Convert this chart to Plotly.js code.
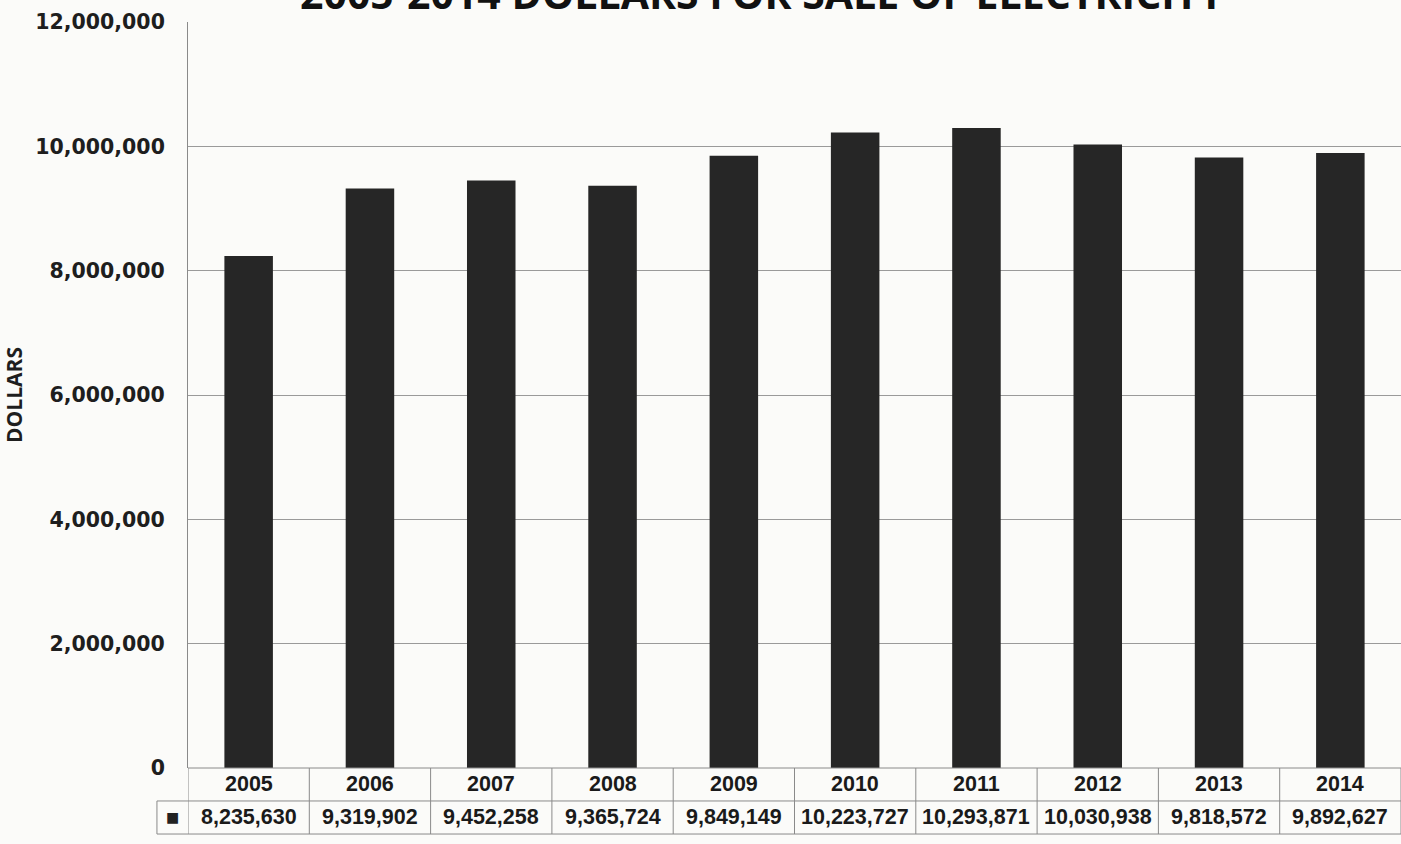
<!DOCTYPE html>
<html>
<head>
<meta charset="utf-8">
<script src="https://cdn.plot.ly/plotly-3.0.1.min.js"></script>
<style>html,body{margin:0;padding:0;background:#fbfbf9;}#chart{width:1401px;height:844px;}</style>
</head>
<body>
<div id="chart"></div>
<script>
const years = ["2005","2006","2007","2008","2009","2010","2011","2012","2013","2014"];
const dollars = [8235630, 9319902, 9452258, 9365724, 9849149, 10223727, 10293871, 10030938, 9818572, 9892627];
const valueLabels = ["8,235,630","9,319,902","9,452,258","9,365,724","9,849,149","10,223,727","10,293,871","10,030,938","9,818,572","9,892,627"];
const tickVals = [0, 2000000, 4000000, 6000000, 8000000, 10000000, 12000000];
const tickText = ["0","2,000,000","4,000,000","6,000,000","8,000,000","10,000,000","12,000,000"];
const chartTitle = "2005-2014 DOLLARS FOR SALE OF ELECTRICITY";
const yTitle = "DOLLARS";

const row1 = -0.0442, row2 = -0.0885, legendX = -0.0256;
const lineStyle = {color: "#8a8a8a", width: 1};
const shapes = [];
const annotations = [];
// table vertical lines (category boundaries on the x scale)
for (let i = 0; i <= years.length; i++) {
  shapes.push({type: "line", xref: "x", yref: "paper", x0: i - 0.5, x1: i - 0.5, y0: 0, y1: row2, line: lineStyle});
}
// table horizontal lines
shapes.push({type: "line", xref: "paper", yref: "paper", x0: 0, x1: 1, y0: 0, y1: 0, line: lineStyle});
shapes.push({type: "line", xref: "paper", yref: "paper", x0: legendX, x1: 1, y0: row1, y1: row1, line: lineStyle});
shapes.push({type: "line", xref: "paper", yref: "paper", x0: legendX, x1: 1, y0: row2, y1: row2, line: lineStyle});
shapes.push({type: "line", xref: "paper", yref: "paper", x0: legendX, x1: legendX, y0: row1, y1: row2, line: lineStyle});

const tfont = {family: "Liberation Sans, Arial, sans-serif", size: 21.5, color: "#1a1a1a", weight: "bold"};
years.forEach((y, i) => {
  annotations.push({x: i, y: row1 / 2, xref: "x", yref: "paper", text: "<b>" + y + "</b>", showarrow: false, font: tfont, xanchor: "center", yanchor: "middle"});
  annotations.push({x: i, y: (row1 + row2) / 2, xref: "x", yref: "paper", text: "<b>" + valueLabels[i] + "</b>", showarrow: false, font: tfont, xanchor: "center", yanchor: "middle"});
});
annotations.push({x: legendX / 2, y: (row1 + row2) / 2, xref: "paper", yref: "paper", text: "■", showarrow: false, font: {family: "DejaVu Sans", size: 14, color: "#222"}, xanchor: "center", yanchor: "middle"});
annotations.push({x: 0.474, y: 1, xref: "paper", yref: "paper", text: "<b>" + chartTitle + "</b>", showarrow: false, yanchor: "bottom", xanchor: "center", yshift: -1, font: {family: "Open Sans, sans-serif", size: 41, color: "#111"}});

const trace = {
  type: "bar",
  x: years.map((y, i) => i),
  y: dollars,
  width: 0.4,
  marker: {color: "#262626", line: {width: 0}},
  hoverinfo: "none"
};

const layout = {
  width: 1401, height: 844,
  margin: {l: 188, r: 0, t: 22, b: 76},
  paper_bgcolor: "#fbfbf9",
  plot_bgcolor: "#fbfbf9",
  showlegend: false,
  xaxis: {range: [-0.5, 9.5], showticklabels: false, ticks: "", showgrid: false, zeroline: false, showline: false},
  yaxis: {
    range: [0, 12000000], tickvals: tickVals, ticktext: tickText,
    tickfont: {family: "DejaVu Sans, sans-serif", size: 20.5, color: "#1e1e1e", weight: "bold"},
    ticklabelstandoff: 18,
    showgrid: true, gridcolor: "#9a9a9a", gridwidth: 1,
    zeroline: false, showline: true, linecolor: "#8a8a8a", linewidth: 1, mirror: false,
    title: {text: "<b>" + yTitle + "</b>", font: {family: "Open Sans, sans-serif", size: 21, color: "#1e1e1e"}, standoff: 12}
  },
  shapes: shapes,
  annotations: annotations
};

Plotly.newPlot("chart", [trace], layout, {staticPlot: true, displayModeBar: false});
</script>
</body>
</html>
